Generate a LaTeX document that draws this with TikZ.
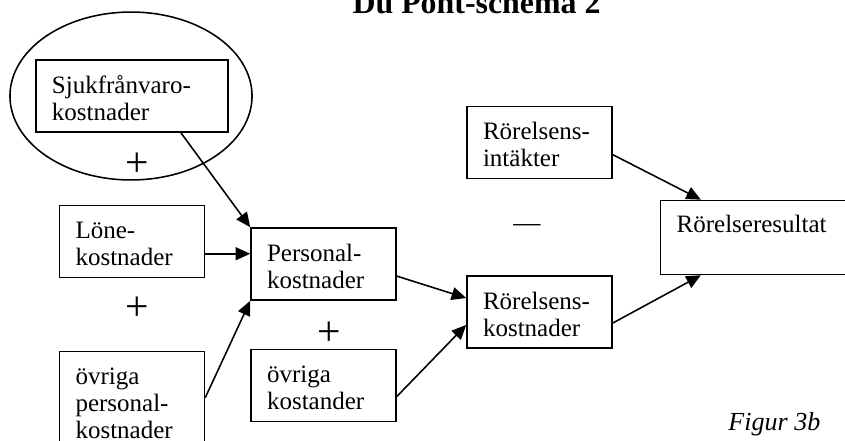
\documentclass[tikz,border=0pt]{standalone}
\usepackage{fontspec}
\setmainfont{Liberation Serif}
\usetikzlibrary{arrows.meta,positioning,shapes.geometric}
\tikzset{
  kostbox/.style={draw,line width=0.75pt,rectangle,align=left,text width=54.2pt,inner xsep=7.7pt,inner ysep=0pt,
    minimum width=69.6pt,text height=15.84pt,text depth=18.72pt,font=\fontsize{12pt}{13pt}\selectfont},
  kostarrow/.style={-{Triangle[length=7pt,width=6.2pt]},line width=0.75pt},
  opsign/.style={inner sep=0pt,font=\fontsize{20pt}{20pt}\selectfont}
}

\begin{document}
\begin{tikzpicture}[x=0.48pt,y=-0.48pt]
\useasboundingbox (0,0) rectangle (845,440);
\node[font=\bfseries\fontsize{15.3pt}{16pt}\selectfont,anchor=base,inner sep=0pt] (title) at (476.5,13) {Du Pont-schema 2};
% personalkostnader
\node[draw,line width=0.75pt,ellipse,inner sep=0pt,minimum width=116.2pt,minimum height=80.6pt] (ring) at (131,96) {};
\node[kostbox,text width=76.8pt] (sjuk) at (132,96) {Sjukfrånvaro-\\kostnader};
\node[kostbox,below=34.6pt of sjuk] (loene) {Löne-\\kostnader};
\node[kostbox,text depth=32.2pt,below=34.6pt of loene] (ovrpers) {övriga\\personal-\\kostnader};
\node[kostbox] (personal) at (323.5,264) {Personal-\\kostnader};
\node[kostbox,below=23pt of personal] (ovrkost) {övriga\\kostander};
\node[opsign] (plusA) at (137.5,164.5) {+};
\node[opsign] (plusB) at (137,309) {+};
\node[opsign] (plusC) at (329.5,333.5) {+};
% rörelsen
\node[kostbox] (rkost) at (539.5,312) {Rörelsens-\\kostnader};
\node[kostbox,above=46pt of rkost] (intakt) {Rörelsens-\\intäkter};
\node[kostbox,text width=81.1pt,text height=15.4pt,text depth=20.1pt,right=22.6pt of rkost.north east,anchor=south west] (result) {Rörelseresultat};
\node[inner sep=0pt,font=\fontsize{13pt}{14pt}\selectfont] (minus) at (527,228) {—};
\node[font=\itshape\fontsize{12.5pt}{14pt}\selectfont,anchor=base west,inner sep=0pt] (fig) at (728,430) {Figur 3b};
\coordinate (loeneout) at ([yshift=-5.8pt]loene.east);
\draw[kostarrow] ([xshift=-23pt]sjuk.south east) -- (personal.north west);
\draw[kostarrow] (loeneout) -- (loeneout -| personal.west);
\draw[kostarrow] ([yshift=-22.6pt]ovrpers.north east) -- (personal.south west);
\draw[kostarrow] ([yshift=-5.8pt]personal.east) -- ([yshift=6.7pt]rkost.west);
\draw[kostarrow] ([yshift=-5.3pt]ovrkost.east) -- ([yshift=-6.2pt]rkost.west);
\draw[kostarrow] ([yshift=-5.8pt]intakt.east) -- ([xshift=19.7pt]result.north west);
\draw[kostarrow] ([yshift=-5.3pt]rkost.east) -- ([xshift=19.7pt]result.south west);
\end{tikzpicture}
\end{document}
